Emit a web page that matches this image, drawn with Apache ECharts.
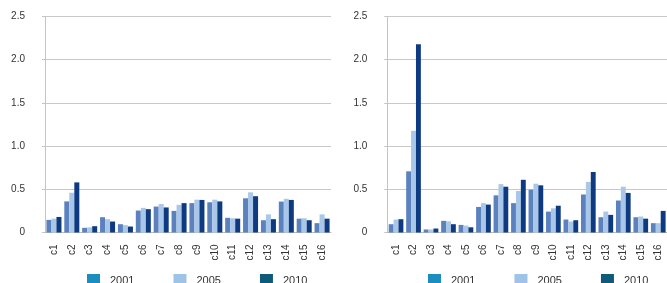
<!DOCTYPE html>
<html>
<head>
<meta charset="utf-8">
<script src="https://cdn.jsdelivr.net/npm/echarts@6/dist/echarts.min.js"></script>
<style>
  html, body { margin: 0; padding: 0; background: #fff; }
  #chart { width: 667px; height: 283px; }
</style>
</head>
<body>
<div id="chart"></div>
<script>
const categories = ['c1', 'c2', 'c3', 'c4', 'c5', 'c6', 'c7', 'c8', 'c9', 'c10', 'c11', 'c12', 'c13', 'c14', 'c15', 'c16']
const years = ['2001', '2005', '2010']

// left panel
const left2001 = [0.146, 0.36, 0.054, 0.177, 0.096, 0.254, 0.30, 0.25, 0.34, 0.35, 0.17, 0.396, 0.142, 0.358, 0.16, 0.108]
const left2005 = [0.16, 0.46, 0.06, 0.154, 0.085, 0.285, 0.33, 0.32, 0.38, 0.38, 0.165, 0.465, 0.21, 0.39, 0.165, 0.21]
const left2010 = [0.18, 0.58, 0.073, 0.127, 0.069, 0.27, 0.29, 0.34, 0.377, 0.36, 0.16, 0.42, 0.154, 0.377, 0.142, 0.16]

// right panel
const right2001 = [0.096, 0.708, 0.035, 0.135, 0.088, 0.296, 0.43, 0.34, 0.496, 0.242, 0.15, 0.44, 0.177, 0.37, 0.177, 0.108]
const right2005 = [0.15, 1.177, 0.035, 0.13, 0.08, 0.34, 0.56, 0.48, 0.565, 0.28, 0.127, 0.585, 0.242, 0.53, 0.185, 0.108]
const right2010 = [0.154, 2.18, 0.046, 0.096, 0.06, 0.323, 0.53, 0.61, 0.546, 0.31, 0.142, 0.70, 0.204, 0.458, 0.16, 0.25]

const barColors = ['#5b82be', '#a8c7e9', '#0d3a80']
const legendColors = ['#1b8ec0', '#9dc3e6', '#0d5b79']

const chart = echarts.init(document.getElementById('chart'))

function xAxis(gridIndex) {
  return {
    type: 'category',
    gridIndex,
    data: categories,
    axisLine: { lineStyle: { color: '#bdbdbd' } },
    axisTick: { length: 4, lineStyle: { color: '#bdbdbd' } },
    axisLabel: { rotate: 90, margin: 12, color: '#333', fontSize: 10, fontFamily: 'Liberation Sans' }
  }
}

function yAxis(gridIndex) {
  return {
    type: 'value',
    gridIndex,
    min: 0,
    max: 2.5,
    interval: 0.5,
    axisLine: { show: true, lineStyle: { color: '#c4c4c4' } },
    axisTick: { show: true, length: 3, lineStyle: { color: '#c4c4c4' } },
    splitLine: { lineStyle: { color: '#c8c8c8' } },
    axisLabel: {
      margin: 20,
      color: '#333',
      fontSize: 10,
      fontFamily: 'Liberation Sans',
      formatter: v => v === 0 ? '0' : v.toFixed(1)
    }
  }
}

function legend(left) {
  return {
    left,
    top: 269,
    itemWidth: 13,
    itemHeight: 13,
    itemGap: 39,
    icon: 'rect',
    textStyle: { color: '#333', fontSize: 11, fontFamily: 'Liberation Sans', padding: [0, 0, 0, 5] },
    data: years.map((y, i) => ({ name: y, itemStyle: { color: legendColors[i] } }))
  }
}

function bars(values, i, axisIndex) {
  return {
    name: years[i],
    type: 'bar',
    xAxisIndex: axisIndex,
    yAxisIndex: axisIndex,
    data: values,
    barGap: '0%',
    barCategoryGap: '16%',
    itemStyle: { color: barColors[i] },
    animation: false
  }
}

chart.setOption({
  animation: false,
  grid: [
    { left: 45, top: 16.5, width: 286, height: 216 },
    { left: 387.3, top: 16.5, width: 283.7, height: 216 }
  ],
  legend: [legend(82), legend(423)],
  xAxis: [xAxis(0), xAxis(1)],
  yAxis: [yAxis(0), yAxis(1)],
  series: [
    bars(left2001, 0, 0),
    bars(left2005, 1, 0),
    bars(left2010, 2, 0),
    bars(right2001, 0, 1),
    bars(right2005, 1, 1),
    bars(right2010, 2, 1)
  ]
})
</script>
</body>
</html>
